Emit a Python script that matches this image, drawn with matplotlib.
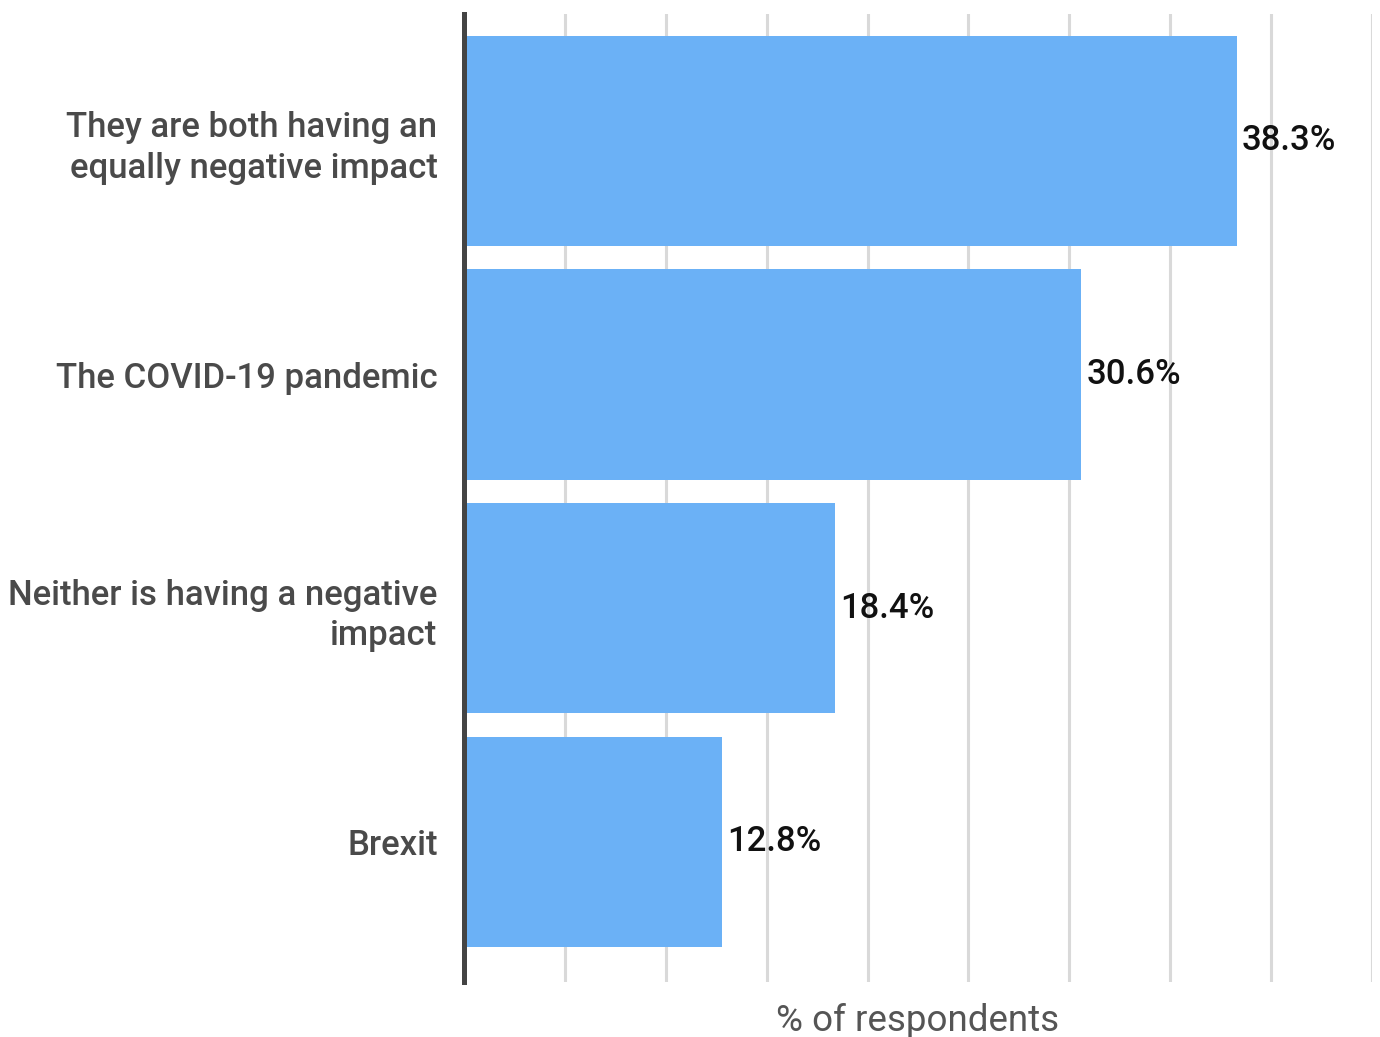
import matplotlib
matplotlib.use("Agg")
import matplotlib.pyplot as plt

categories = ["They are both having an\nequally negative impact",
              "The COVID-19 pandemic",
              "Neither is having a negative\nimpact",
              "Brexit"]
values = [38.3, 30.6, 18.4, 12.8]
value_labels = ["38.3%", "30.6%", "18.4%", "12.8%"]
xticks = [0, 5, 10, 15, 20, 25, 30, 35, 40, 45]

plt.rcParams['font.family'] = ['Roboto', 'DejaVu Sans']

W, H = 1380, 1037
fig = plt.figure(figsize=(W/100, H/100), dpi=100)
left, right, top, bottom = 464, 1372, 14, 982
ax = fig.add_axes([left/W, 1-bottom/H, (right-left)/W, (bottom-top)/H])

ypos = list(range(len(categories)))
ax.barh(ypos, values, height=0.9, color="#6bb1f6", zorder=2)
ax.set_ylim(3.6, -0.543)
ax.set_xlim(0, 45)
ax.set_xticks(xticks)
ax.tick_params(axis='x', length=0, labelbottom=False)
ax.grid(axis='x', color="#d9d9d9", linewidth=2.2, zorder=0)
ax.set_axisbelow(True)
for s in ['top', 'right', 'bottom']:
    ax.spines[s].set_visible(False)
ax.spines['left'].set_color("#444444")
ax.spines['left'].set_linewidth(3.6)
ax.spines['left'].set_zorder(3)

ax.set_yticks(ypos)
ax.set_yticklabels(categories, fontsize=25, color="#4a4a4a", fontweight='medium',
                   linespacing=1.3)
ax.tick_params(axis='y', length=0, pad=19)

for y, v, lab in zip(ypos, values, value_labels):
    ax.text(v + 0.25, y, lab, va='center', ha='left', fontsize=25,
            color="#111111", fontweight='medium', zorder=4)

fig.text(918/W, 1-1021/H, "% of respondents", ha='center', va='center',
         fontsize=26.5, color="#555555")

fig.savefig("out.png", dpi=100, facecolor="white")
